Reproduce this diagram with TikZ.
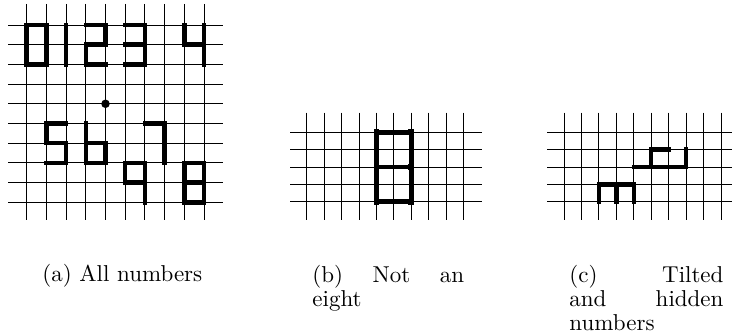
\documentclass[tikz,border=0pt]{standalone}
\tikzset{
  gridline/.style={line width=0.4pt, black},
  seg/.style={line width=1.95pt, line cap=rect, line join=miter},
  capt/.style={inner sep=0pt, font=\fontsize{10}{10.5}\selectfont},
  capbox/.style={capt, text width=66pt, align=justify, anchor=north west},
  joint/.style={rectangle, fill=black, inner sep=0pt, minimum size=2.6pt},
  dotnode/.style={circle, fill=black, inner sep=0pt, minimum size=3.7pt},
}
\begin{document}
\begin{tikzpicture}[x=0.435pt,y=-0.435pt]
\useasboundingbox (0,0) rectangle (732,336);
\clip (0,0) rectangle (732,336);
% ---------- panel (a)
\foreach \i in {0,...,9}{
  \draw[gridline] ({26.7+19.7*\i},4) -- ({26.7+19.7*\i},220);
  \draw[gridline] (8,{25+19.7*\i}) -- (223.3,{25+19.7*\i});
}
\begin{scope}[shift={(26.7,25)}, xscale=19.7, yscale=19.7]
  \draw[seg] (0,0) rectangle (1,2);
  \draw[seg] (2,0) -- (2,2);
  \draw[seg] (3,0) -- (4,0) -- (4,1) -- (3,1) -- (3,2) -- (4,2);
  \draw[seg] (5,0) -- (6,0) -- (6,2) -- (5,2)  (5,1) -- (6,1);
  \draw[seg] (8,0) -- (8,1) -- (9,1)  (9,0) -- (9,2);
  \node[dotnode] (dot) at (4,4) {};
  \draw[seg] (2,5) -- (1,5) -- (1,6) -- (2,6) -- (2,7) -- (1,7);
  \draw[seg] (3,5) -- (3,7) -- (4,7) -- (4,6) -- (3,6);
  \draw[seg] (6,5) -- (7,5) -- (7,7);
  \draw[seg] (6,9) -- (6,7) -- (5,7) -- (5,8) -- (6,8);
  \draw[seg] (8,7) rectangle (9,9)  (8,8) -- (9,8);
\end{scope}
% ---------- panel (b)
\foreach \i in {0,...,9}{
  \draw[gridline] ({306.7+17.45*\i},112.7) -- ({306.7+17.45*\i},220);
}
\foreach \j in {0,...,4}{
  \draw[gridline] (290,{132.3+17.35*\j}) -- (481.5,{132.3+17.35*\j});
}
\begin{scope}[shift={(306.7,132.3)}, xscale=17.45, yscale=17.35]
  \draw[seg] (4,0) rectangle (6,4)  (4,2) -- (6,2);
  \foreach \p [count=\k] in {(4,0),(6,0),(4,2),(6,2),(4,4),(6,4)}
    \node[joint] (b\k) at \p {};
\end{scope}
% ---------- panel (c)
\foreach \i in {0,...,9}{
  \draw[gridline] ({564+17.45*\i},112.7) -- ({564+17.45*\i},220);
}
\foreach \j in {0,...,4}{
  \draw[gridline] (547.3,{132.3+17.35*\j}) -- (740,{132.3+17.35*\j});
}
\begin{scope}[shift={(564,132.3)}, xscale=17.45, yscale=17.35]
  \draw[seg] (2,4) -- (2,3) -- (4,3) -- (4,4)  (3,3) -- (3,4);
  \draw[seg] (4,2) -- (7,2) -- (7,1)  (5,2) -- (5,1) -- (6,1);
\end{scope}
% ---------- captions
\node[capt, anchor=base west] (capa) at (42,282) {(a) All numbers};
\node[capbox] (capb) at (312,264.8) {(b) Not an\linebreak eight};
\node[capbox, text width=67pt] (capc) at (569,264.8) {(c) Tilted\linebreak and hidden\linebreak numbers};
\end{tikzpicture}
\end{document}
